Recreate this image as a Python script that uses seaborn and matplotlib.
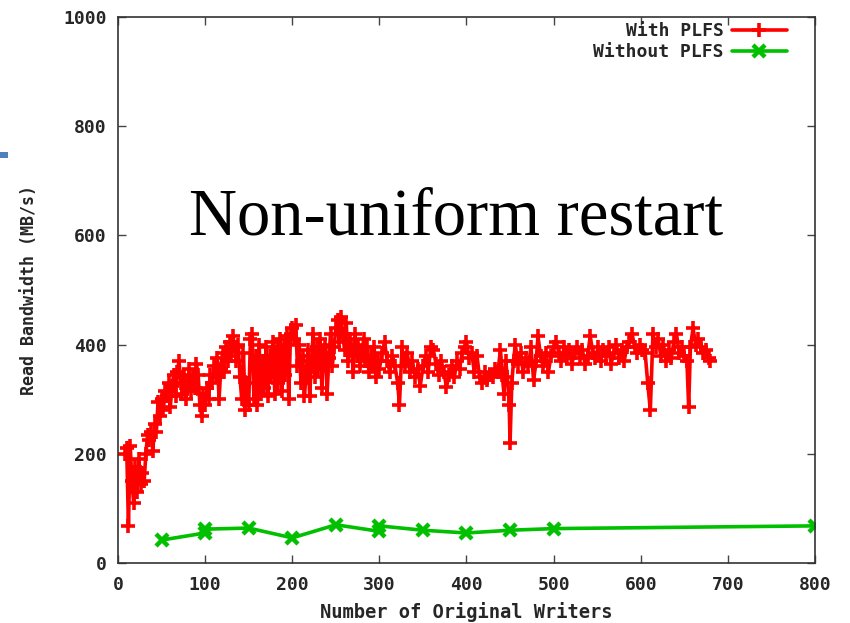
import matplotlib
matplotlib.use("Agg")
import matplotlib.pyplot as plt
import seaborn as sns
import pandas as pd
from matplotlib.patches import Rectangle

# ---------------- data ----------------
with_x = [8, 10, 12, 14, 16, 18, 20, 22, 24, 26, 28, 30, 32, 34, 36, 38, 40, 42, 44, 46, 48, 50,
          52, 54, 56, 58, 60, 62, 64, 66, 68, 70, 72, 74, 76, 78, 80, 82, 84, 86, 88, 90, 92, 94, 96, 98, 100,
          102, 104, 106, 108, 110, 112, 114, 116, 118, 120, 122, 124, 126, 128, 130, 132, 134, 136, 138, 140,
          142, 144, 146, 148, 150,
          152, 154, 156, 158, 160, 162, 164, 166, 168, 170, 172, 174, 176, 178, 180, 182, 184, 186, 188, 190,
          192, 194, 196, 198, 200,
          202, 204, 206, 208, 210, 212, 214, 216, 218, 220, 222, 224, 226, 228, 230, 232, 234, 236, 238, 240,
          242, 244, 246, 248, 250,
          252, 254, 256, 258, 260, 262, 264, 266, 268, 270, 272, 274, 276, 278, 280, 282, 284, 286, 288, 290,
          292, 294, 296, 298, 300,
          303, 306, 309, 312, 315, 318, 321, 323, 326, 329, 332, 335, 338, 341, 344, 347, 350, 353, 356, 359,
          362, 365, 368, 371, 374, 377, 380, 383, 386, 389, 392, 395, 398, 400,
          403, 406, 409, 412, 415, 418, 421, 424, 427, 430, 433, 436, 439, 441, 443, 445, 447, 449, 450, 452,
          454, 456, 459, 462, 465, 468, 471, 474, 477, 480, 482, 485, 488, 491, 494, 497, 500,
          503, 506, 509, 512, 515, 518, 521, 524, 527, 530, 533, 536, 539, 542, 545, 548, 551, 554, 557, 560,
          563, 566, 569, 572, 575, 578, 581, 584, 587, 590, 593, 596, 599,
          602, 605, 608, 611, 614, 617, 620, 623, 626, 629, 632, 635, 638, 641, 644, 647, 650, 653, 655, 657,
          660, 663, 666, 669, 672, 675, 678, 680]
with_y = [200, 210, 68, 215, 150, 110, 175, 130, 190, 145, 165, 150, 200, 235, 225, 240, 205, 255, 240, 295, 270, 300,
          280, 315, 305, 330, 285, 325, 345, 305, 350, 370, 330, 310, 345, 300, 325, 355, 315, 340, 320, 365, 345, 290, 270, 310, 290,
          320, 300, 345, 330, 360, 340, 375, 300, 355, 385, 350, 395, 370, 405, 380, 415, 395, 370, 400, 340,
          300, 385, 280, 330, 290,
          410, 420, 300, 380, 290, 400, 310, 370, 320, 395, 305, 380, 340, 405, 310, 395, 330, 410, 315, 400,
          345, 415, 300, 420, 430,
          410, 435, 360, 400, 330, 380, 305, 350, 390, 305, 370, 420, 340, 395, 355, 410, 320, 385, 400, 310,
          375, 420, 360, 395, 430,
          445, 405, 450, 420, 390, 440, 370, 410, 395, 350, 420, 380, 400, 360, 385, 410, 370, 395, 350, 380,
          360, 395, 340, 370, 355,
          385, 405, 370, 350, 380, 360, 330, 290, 395, 360, 385, 350, 370, 340, 355, 325, 360, 380, 350, 395,
          390, 365, 345, 370, 350, 322, 345, 360, 340, 370, 355, 385, 395, 405,
          375, 385, 350, 380, 340, 330, 350, 335, 345, 340, 355, 350, 390, 345, 310, 370, 340, 290, 220, 330,
          370, 400, 365, 385, 350, 375, 360, 395, 335, 370, 415, 380, 360, 385, 350, 380, 395,
          405, 385, 370, 395, 375, 390, 365, 385, 395, 375, 390, 365, 380, 415, 385, 375, 395, 370, 390, 380,
          395, 365, 385, 400, 375, 390, 370, 395, 405, 420, 395, 385, 400,
          390, 385, 330, 280, 420, 395, 410, 380, 400, 370, 390, 375, 405, 420, 385, 395, 380, 370, 285, 395,
          430, 400, 410, 395, 385, 390, 375, 370]

without_x = [50, 100, 100, 150, 200, 250, 300, 300, 350, 400, 450, 500, 800]
without_y = [42, 55, 62, 64, 46, 70, 58, 68, 60, 55, 60, 63, 68]

series_names = ["With PLFS", "Without PLFS"]
x_ticks = [0, 100, 200, 300, 400, 500, 600, 700, 800]
y_ticks = [0, 200, 400, 600, 800, 1000]

# ---------------- style ----------------
sns.set_style("white")
plt.rcParams["font.family"] = ["DejaVu Sans Mono", "DejaVu Sans"]

fig = plt.figure(figsize=(8.5, 6.23), dpi=100)
ax = fig.add_axes([118 / 850, 60 / 623, 697 / 850, 546 / 623])

df_with = pd.DataFrame({"x": with_x, "y": with_y})
df_without = pd.DataFrame({"x": without_x, "y": without_y})

sns.lineplot(data=df_with, x="x", y="y", ax=ax, estimator=None, sort=False,
             color="#ff0000", linewidth=2.6, linestyle="-", marker="+", markersize=10,
             markeredgewidth=2.6, markeredgecolor="#ff0000", markerfacecolor="#ff0000",
             label=series_names[0])
sns.lineplot(data=df_without, x="x", y="y", ax=ax, estimator=None, sort=False,
             color="#00c000", linewidth=2.6, linestyle="-", marker="x", markersize=8,
             markeredgewidth=3.2, markeredgecolor="#00c000", markerfacecolor="#00c000",
             label=series_names[1])

ax.set_xlim(0, 800)
ax.set_ylim(0, 1000)
ax.set_xticks(x_ticks)
ax.set_yticks(y_ticks)
ax.set_xticklabels([str(t) for t in x_ticks], fontsize=13, fontweight="bold")
ax.set_yticklabels([str(t) for t in y_ticks], fontsize=13, fontweight="bold")
ax.tick_params(axis="both", direction="in", length=6, width=1, color="#444444",
               top=True, right=True, bottom=True, left=True, pad=8)
ax.tick_params(axis="x", pad=9)
for s in ax.spines.values():
    s.set_visible(True)
    s.set_color("#333333")
    s.set_linewidth(1.2)

ax.set_xlabel("Number of Original Writers", fontsize=13.5, fontweight="bold", labelpad=6)
ax.set_ylabel("Read Bandwidth (MB/s)", fontsize=12, fontweight="bold", labelpad=18)

leg = ax.legend(loc="upper right", bbox_to_anchor=(0.967, 1.0), frameon=False,
                markerfirst=False, handlelength=3.0, borderaxespad=0.0, borderpad=0.3,
                labelspacing=0.15, handletextpad=0.5,
                prop={"family": ["DejaVu Sans Mono"], "weight": "bold", "size": 13})

ax.text(0.485, 0.632, "Non-uniform restart", transform=ax.transAxes,
        ha="center", va="center", fontsize=48, family=["Liberation Serif"], color="black")

fig.add_artist(Rectangle((0, 1 - 158 / 623), 8 / 850, 6 / 623,
                         transform=fig.transFigure, color="#4f81bd", linewidth=0))

fig.savefig("out.png", dpi=100)
